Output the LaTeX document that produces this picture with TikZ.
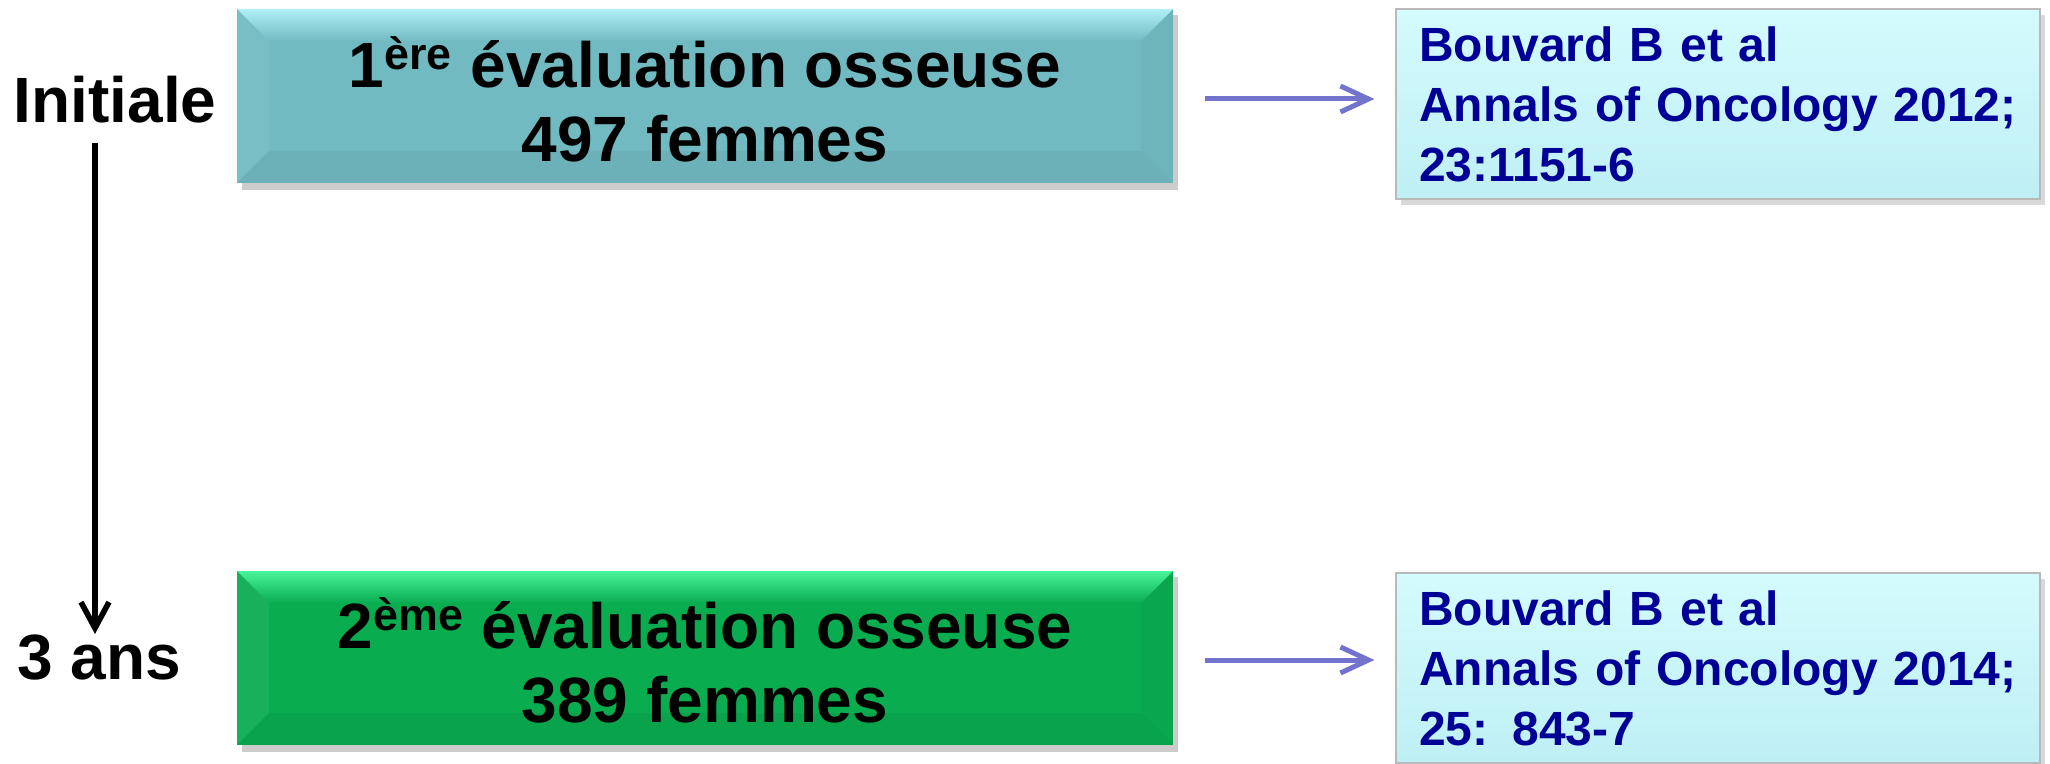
\documentclass[tikz,border=0pt]{standalone}
\usepackage{fontspec}
\setmainfont{Liberation Sans}
\usetikzlibrary{arrows.meta,shadows}

\definecolor{tealmain}{RGB}{114,186,194}
\definecolor{teallight}{RGB}{175,240,246}
\definecolor{greenmain}{RGB}{10,172,80}
\definecolor{greenlight}{RGB}{72,244,152}
\definecolor{reftop}{RGB}{212,251,253}
\definecolor{refbottom}{RGB}{190,239,245}
\definecolor{refnavy}{RGB}{0,0,150}
\definecolor{linkblue}{RGB}{115,115,205}

% bevelled box: x1 y1 x2 y2 main light
\newcommand{\bevelbox}[6]{%
  \fill[black,opacity=0.2] (#1+5,#2+6) rectangle (#3+5,#4+7);
  \fill[#5] (#1,#2) rectangle (#3,#4);
  \shade[top color=#6, bottom color=#5] (#1,#2) -- (#3,#2) -- (#3-32,#2+32) -- (#1+32,#2+32) -- cycle;
  \fill[white,opacity=0.06] (#1,#2) -- (#1+32,#2+32) -- (#1+32,#4-32) -- (#1,#4) -- cycle;
  \fill[black,opacity=0.03] (#3,#2) -- (#3-32,#2+32) -- (#3-32,#4-32) -- (#3,#4) -- cycle;
  \fill[black,opacity=0.05] (#1,#4) -- (#1+32,#4-32) -- (#3-32,#4-32) -- (#3,#4) -- cycle;
}

\begin{document}
\begin{tikzpicture}[x=0.5pt,y=0.5pt,yscale=-1,xscale=1,
  evaltext/.style={font=\fontsize{32}{37}\selectfont\bfseries, align=center, minimum width=468pt, minimum height=87pt, inner sep=0pt},
  reftext/.style={font=\fontsize{24}{30}\selectfont\bfseries, text=refnavy, align=left, text width=299pt, inner xsep=11.5pt, minimum height=95pt, top color=reftop, bottom color=refbottom, draw=gray!55, line width=0.6pt, drop shadow={shadow xshift=2.5pt, shadow yshift=-3pt, opacity=0.3}},
  timetext/.style={font=\fontsize{32}{38}\selectfont\bfseries, inner sep=0.75pt},
  link/.style={-{Straight Barb[length=14pt,width=13pt]}, linkblue, line width=2.5pt},
  timeline/.style={-{Straight Barb[length=13pt,width=14pt]}, black, line width=2.8pt}
]
\useasboundingbox (0,0) rectangle (2050,764);

\bevelbox{237}{9}{1173}{183}{tealmain}{teallight}
\bevelbox{237}{571}{1173}{745}{greenmain}{greenlight}

% Text Node
\draw (705,99) node [evaltext] (eval1) {1\textsuperscript{ère} évaluation osseuse\\497 femmes};
% Text Node
\draw (705,660) node [evaltext] (eval2) {2\textsuperscript{ème} évaluation osseuse\\389 femmes};
% Text Node
\draw (1718,104) node [reftext] (ref1) {Bouvard B et al\\Annals of Oncology 2012;\\23:1151-6};
% Text Node
\draw (1718,668) node [reftext] (ref2) {Bouvard B et al\\Annals of Oncology 2014;\\25: 843-7};
% Text Node
\draw (115,100) node [timetext] (initiale) {Initiale};
% Text Node
\draw (99,658) node [timetext] (troisans) {3 ans};

\coordinate (tstart) at (95,143);
\coordinate (tend) at (95,634);
\draw[timeline] (tstart) -- (tend);

\draw[link, shorten <=16pt, shorten >=10.5pt] (eval1.east) -- (eval1.east -| ref1.west);
\draw[link, shorten <=16pt, shorten >=10.5pt] (eval2.east) -- (eval2.east -| ref2.west);
\end{tikzpicture}
\end{document}
